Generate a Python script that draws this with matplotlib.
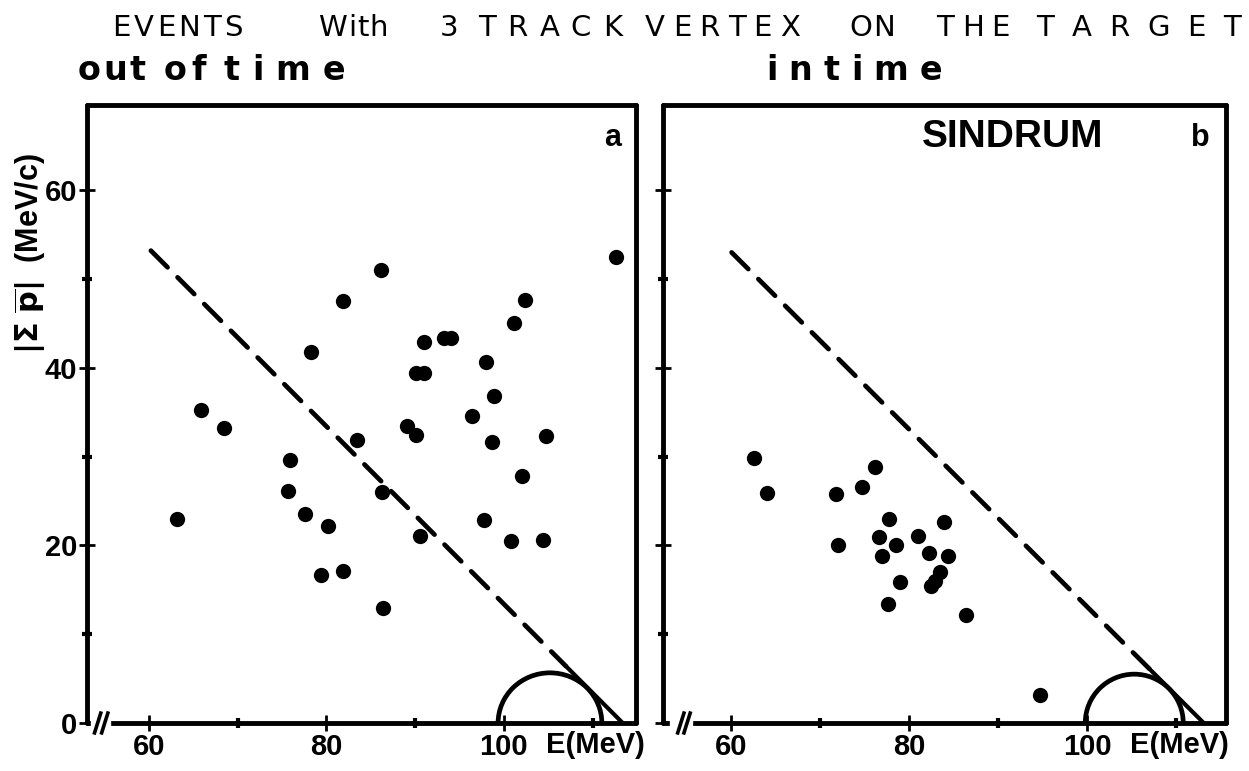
import matplotlib
matplotlib.use("Agg")
import matplotlib.pyplot as plt
from matplotlib.patches import Arc
from matplotlib import font_manager

# events with a 3-track vertex on the target: E (MeV) and |sum p| (MeV/c)
oot_E = [112.7, 86.1, 81.9, 102.4, 101.2, 78.2, 91.0, 93.2, 94.0, 98.0,
         90.1, 91.0, 98.9, 65.9, 68.4, 96.4, 89.1, 90.1, 83.4, 98.7,
         104.7, 75.9, 102.1, 75.7, 86.3, 63.2, 77.6, 80.2, 97.8, 90.5,
         100.8, 104.4, 79.4, 81.9, 86.4]
oot_p = [52.5, 51.0, 47.5, 47.6, 45.1, 41.8, 42.9, 43.4, 43.4, 40.7,
         39.4, 39.4, 36.8, 35.2, 33.2, 34.6, 33.4, 32.4, 31.9, 31.7,
         32.3, 29.6, 27.8, 26.1, 26.0, 23.0, 23.5, 22.2, 22.9, 21.1,
         20.5, 20.6, 16.7, 17.1, 13.0]

int_E = [62.6, 76.2, 64.1, 71.8, 74.7, 77.8, 83.9, 76.6, 81.0, 72.1,
         78.5, 77.0, 82.3, 84.4, 83.5, 79.0, 82.5, 82.9, 77.7, 86.4,
         94.7]
int_p = [29.9, 28.8, 25.9, 25.8, 26.6, 23.0, 22.6, 20.9, 21.1, 20.0,
         20.0, 18.8, 19.2, 18.8, 17.0, 15.9, 15.4, 16.0, 13.4, 12.2,
         3.1]

# kinematic cut line (dashed part, then solid to the axis) and signal region
cut_a_E = [60.2, 107.0, 113.4]
cut_a_p = [53.2, 6.4, 0.0]
cut_b_E = [60.1, 107.2, 113.1]
cut_b_p = [53.0, 5.9, 0.0]
sig_a = (105.2, 11.7, 11.3)   # centre E, width, height
sig_b = (105.3, 11.0, 11.0)

xmajor = [60, 80, 100]
xminor = [70, 90, 110]
ymajor = [0, 20, 40, 60]
yminor = [10, 30, 50]

# header words: text, left px, right px
head_words = [("EVENTS", 112, 243), ("With", 318, 385), ("3", 440, 460),
              ("TRACK", 478, 622), ("VERTEX", 645, 800), ("ON", 849, 894),
              ("THE", 936, 1010), ("TARGET", 1036, 1241)]
sub_words = [("out", 78, 145), ("of", 164, 206), ("time", 224, 345),
             ("intime", 766, 942)]

names = {f.name for f in font_manager.fontManager.ttflist}
lab_font = "Liberation Sans" if "Liberation Sans" in names else "DejaVu Sans"

plt.rcParams["mathtext.fontset"] = "dejavusans"

W, H = 1249, 771
fig = plt.figure(figsize=(W / 100, H / 100), dpi=100)
ax_a = fig.add_axes([87 / W, 48 / H, 549 / W, 618 / H])
ax_b = fig.add_axes([663 / W, 48 / H, 563 / W, 618 / H])


def draw_panel(ax, E, p, cut_E, cut_p, sig, xlim, brk, show_y):
    ax.set_xlim(*xlim)
    ax.set_ylim(0, 69.6)
    for s in ax.spines.values():
        s.set_linewidth(3.5)
        s.set_capstyle("round")

    ax.plot(E, p, "o", color="black", ms=11, mew=0)

    ax.plot(cut_E[:2], cut_p[:2], color="black", lw=3.4,
            dashes=(5.0, 3.0), dash_capstyle="round")
    ax.plot(cut_E[1:], cut_p[1:], color="black", lw=3.0,
            solid_capstyle="round")
    ax.add_patch(Arc((sig[0], 0), sig[1], sig[2], theta1=0, theta2=180,
                     color="black", lw=3.4))

    ax.set_xticks(xmajor)
    ax.set_xticks(xminor, minor=True)
    ax.set_yticks(ymajor)
    ax.set_yticks(yminor, minor=True)
    ax.tick_params(which="major", direction="inout", length=12, width=2,
                   pad=1, labelsize=21)
    ax.tick_params(which="minor", direction="inout", length=7, width=3)
    ax.set_xticklabels([str(v) for v in xmajor], fontweight="bold",
                       family=lab_font)
    if show_y:
        ax.set_yticklabels([str(v) for v in ymajor], fontweight="bold",
                           family=lab_font)
    else:
        ax.set_yticklabels([])

    # axis break on E
    tr = ax.get_xaxis_transform()
    ax.plot([brk[0], brk[1]], [0, 0], color="white", lw=6, transform=tr,
            clip_on=False, zorder=5)
    for x0 in brk[2:]:
        ax.plot([x0 - 0.35, x0 + 0.35], [-0.016, 0.016], color="black",
                lw=2.6, transform=tr, clip_on=False, zorder=6)

    ax.text(brk[1] + 49.5, -0.036, "E(MeV)", transform=tr, ha="left",
            va="center", fontsize=21, fontweight="bold", family=lab_font)


draw_panel(ax_a, oot_E, oot_p, cut_a_E, cut_a_p, sig_a, (53.0, 114.9),
           (53.9, 55.3, 54.2, 55.0), True)
draw_panel(ax_b, int_E, int_p, cut_b_E, cut_b_p, sig_b, (52.4, 115.6),
           (53.6, 55.3, 54.4, 55.1), False)

ax_a.text(112.3, 65.9, "a", ha="center", va="center", fontsize=22,
          fontweight="bold", family=lab_font)
ax_b.text(112.7, 65.9, "b", ha="center", va="center", fontsize=22,
          fontweight="bold", family=lab_font)
ax_b.text(91.7, 66.0, "SINDRUM", ha="center", va="center", fontsize=28,
          fontweight="bold", family=lab_font)

fig.text(30 / W, 1 - 254 / H, r"$\mathbf{|\Sigma\ \overline{p}|}$  (MeV/c)",
         rotation=90, ha="center", va="center", fontsize=22,
         fontweight="bold", family=lab_font)


def spread_word(word, x0, x1, yc, **kw):
    # lay the letters of a word out evenly between two pixel positions
    r = fig.canvas.get_renderer()
    arts = [fig.text(0, 0, ch, ha="left", va="center", **kw) for ch in word]
    widths = [a.get_window_extent(r).width for a in arts]
    gap = 0 if len(word) == 1 else (x1 - x0 - sum(widths)) / (len(word) - 1)
    gap = max(gap, 1)
    x = x0
    for a, w in zip(arts, widths):
        a.set_position((x / W, 1 - yc / H))
        x += w + gap


for word, x0, x1 in head_words:
    spread_word(word, x0, x1, 28, fontsize=21, family="DejaVu Sans")
for word, x0, x1 in sub_words:
    spread_word(word, x0, x1, 70, fontsize=24, fontweight="bold",
                family="DejaVu Sans")

fig.savefig("out.png", dpi=100)
